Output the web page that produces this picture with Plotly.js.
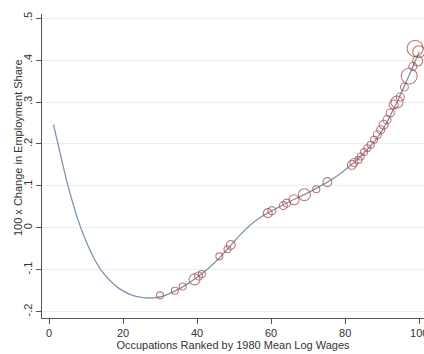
<!DOCTYPE html>
<html><head><meta charset="utf-8">
<script src="https://cdn.plot.ly/plotly-3.0.1.min.js"></script>
<style>html,body{margin:0;padding:0;background:#fff}#c{width:424px;height:354px}</style>
</head><body><div id="c"></div>
<script>
// fitted curve
const fitX = [1.2, 2.5, 4, 5.5, 7, 8.5, 10, 12, 14, 16.5, 19, 22, 25, 28, 31, 34, 37, 40, 43, 46, 49, 51.5, 54, 56.5, 59, 62, 66, 70, 74, 78, 82, 84, 86, 88, 90, 92, 94, 96, 98, 100];
const fitY = [0.246, 0.197, 0.140, 0.088, 0.042, 0.002, -0.032, -0.070, -0.100, -0.126, -0.145, -0.159, -0.166, -0.167, -0.162, -0.151, -0.136, -0.118, -0.097, -0.072, -0.043, -0.018, 0.004, 0.021, 0.035, 0.049, 0.067, 0.084, 0.103, 0.125, 0.153, 0.169, 0.187, 0.207, 0.232, 0.264, 0.300, 0.338, 0.378, 0.420];
// occupation points
const occX = [30.0, 34.0, 36.1, 39.3, 40.4, 41.3, 46.0, 48.2, 49.1, 59.1, 60.2, 63.3, 64.2, 66.2, 69.0, 72.2, 75.2, 81.8, 82.4, 83.6, 84.2, 85.1, 86.0, 86.9, 87.8, 88.7, 89.6, 90.4, 91.3, 92.2, 93.1, 94.0, 94.9, 96.0, 97.3, 98.3, 99.6, 98.9, 99.9];
const occY = [-0.161, -0.150, -0.140, -0.123, -0.115, -0.110, -0.068, -0.051, -0.041, 0.035, 0.041, 0.053, 0.059, 0.067, 0.079, 0.092, 0.109, 0.150, 0.156, 0.162, 0.170, 0.181, 0.190, 0.198, 0.210, 0.222, 0.234, 0.246, 0.258, 0.274, 0.294, 0.300, 0.312, 0.336, 0.362, 0.385, 0.398, 0.428, 0.420];
const occSize = [7, 7, 7, 11, 8, 7, 7, 7, 9, 9, 8, 8, 8, 10, 12, 7, 9, 9, 8, 7, 7, 7, 7, 7, 7, 8, 8, 9, 8, 8, 9, 12, 8, 8, 16, 8, 10, 16, 12];
const yTickVals = [-0.2, -0.1, 0, 0.1, 0.2, 0.3, 0.4, 0.5];
const yTickText = ['-.2', '-.1', '0', '.1', '.2', '.3', '.4', '.5'];
const xTickVals = [0, 20, 40, 60, 80, 100];

const font = {family: 'Liberation Sans, Arial, sans-serif', size: 11, color: '#333'};
const tfont = {family: 'Liberation Sans, Arial, sans-serif', size: 11, color: '#333'};
Plotly.newPlot('c', [
  {x: fitX, y: fitY, type: 'scatter', mode: 'lines', line: {color: '#7f95ae', width: 1.3, shape: 'spline', smoothing: 1}, hoverinfo: 'skip'},
  {x: occX, y: occY, type: 'scatter', mode: 'markers',
   marker: {size: occSize, color: 'rgba(0,0,0,0)', line: {color: '#a84444', width: 1.1}}}
], {
  width: 424, height: 354,
  margin: {l: 42, r: 0, t: 14, b: 36},
  paper_bgcolor: '#fff', plot_bgcolor: '#fff',
  showlegend: false, font: font,
  xaxis: {range: [-1.9, 101.3], tickvals: xTickVals, ticktext: xTickVals.map(String), showgrid: false, zeroline: false,
          showline: true, linecolor: '#555', linewidth: 1, ticks: 'outside', ticklen: 5, tickcolor: '#555',
          ticklabeloverflow: 'allow',
          tickfont: font, title: {text: 'Occupations Ranked by 1980 Mean Log Wages', font: tfont, standoff: 0}},
  yaxis: {range: [-0.215, 0.51], tickvals: yTickVals, ticktext: yTickText, tickangle: -90, showgrid: true, gridcolor: '#e6eff1', gridwidth: 1,
          zeroline: false, showline: true, linecolor: '#555', linewidth: 1, ticks: 'outside', ticklen: 5, tickcolor: '#555',
          tickfont: font},
  annotations: [{text: '100 x Change in Employment Share', xref: 'paper', yref: 'paper', x: -0.0628, y: 0.559,
                 xanchor: 'center', yanchor: 'middle', textangle: -90, showarrow: false, font: tfont}]
}, {staticPlot: true});
</script></body></html>
